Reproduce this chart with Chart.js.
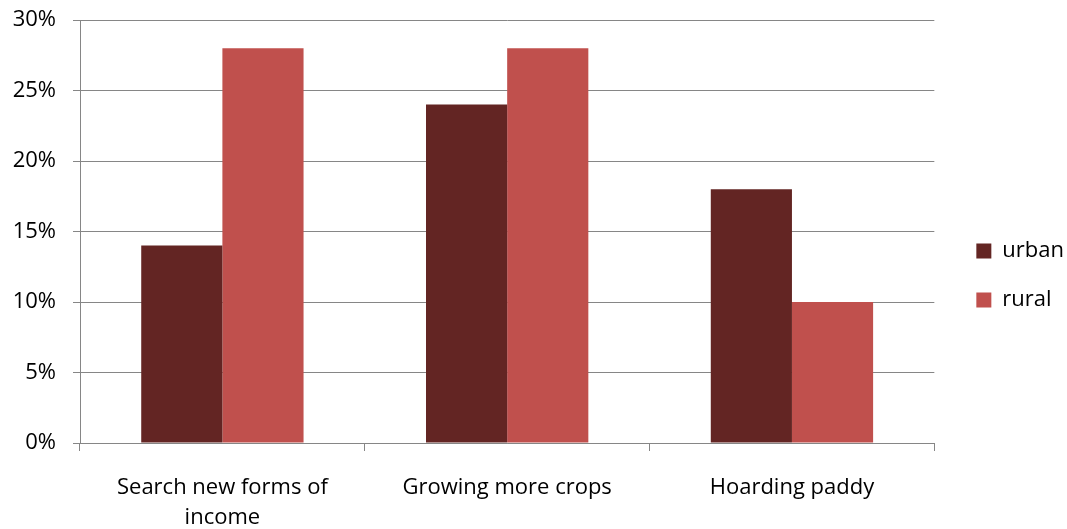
<!DOCTYPE html>
<html>
<head>
<meta charset="utf-8">
<script src="https://cdn.jsdelivr.net/npm/chart.js@4/dist/chart.umd.min.js"></script>
<style>
  html, body { margin: 0; padding: 0; background: #ffffff; }
  #wrap { width: 1067px; height: 529px; }
</style>
</head>
<body>
<div id="wrap"><canvas id="chart" width="1067" height="529"></canvas></div>
<script>
// Coping strategies by area (share of respondents, %)
const categories = [["Search new forms of", "income"], "Growing more crops", "Hoarding paddy"];
const urbanValues = [14, 24, 18];
const ruralValues = [28, 28, 10];
const seriesNames = ["urban", "rural"];
const yTicks = { min: 0, max: 30, step: 5 };

const FONT = "'Open Sans', 'Liberation Sans', sans-serif";
const AXIS_GREY = "#868686";

new Chart(document.getElementById("chart"), {
  type: "bar",
  data: {
    labels: categories,
    datasets: [
      { label: seriesNames[0], data: urbanValues, backgroundColor: "#632523", borderWidth: 0 },
      { label: seriesNames[1], data: ruralValues, backgroundColor: "#C0504D", borderWidth: 0 }
    ]
  },
  options: {
    responsive: false,
    animation: false,
    devicePixelRatio: 1,
    layout: { padding: { top: 20, right: -7, bottom: -2, left: 0 } },
    datasets: { bar: { categoryPercentage: 0.57, barPercentage: 1.0 } },
    plugins: {
      tooltip: { enabled: false },
      legend: {
        position: "right",
        labels: {
          boxWidth: 15,
          boxHeight: 15,
          padding: 27,
          color: "#000000",
          font: { family: FONT, size: 22 }
        }
      }
    },
    scales: {
      x: {
        afterFit(scale) { scale.height = 88; },
        grid: {
          drawOnChartArea: false,
          drawTicks: true,
          tickLength: 8,
          color: AXIS_GREY,
          lineWidth: 1
        },
        border: { display: true, color: AXIS_GREY, width: 1 },
        ticks: {
          padding: 21,
          color: "#000000",
          maxRotation: 0,
          autoSkip: false,
          font: { family: FONT, size: 22, lineHeight: 1.4 }
        }
      },
      y: {
        min: yTicks.min,
        max: yTicks.max,
        afterFit(scale) {
          scale.width = 80;
          scale.paddingTop = 0;
          scale.paddingBottom = 0;
        },
        grid: {
          color: AXIS_GREY,
          lineWidth: 1,
          drawTicks: true,
          tickLength: 7
        },
        border: { display: true, color: AXIS_GREY, width: 1 },
        ticks: {
          stepSize: yTicks.step,
          padding: 17,
          color: "#000000",
          font: { family: FONT, size: 22 },
          callback: (v) => v + "%"
        }
      },
      // spacer between plot area and legend
      gap: {
        type: "linear",
        position: "right",
        display: true,
        afterFit(scale) { scale.width = 15; },
        grid: { display: false },
        border: { display: false },
        ticks: { display: false }
      }
    }
  }
});
</script>
</body>
</html>
